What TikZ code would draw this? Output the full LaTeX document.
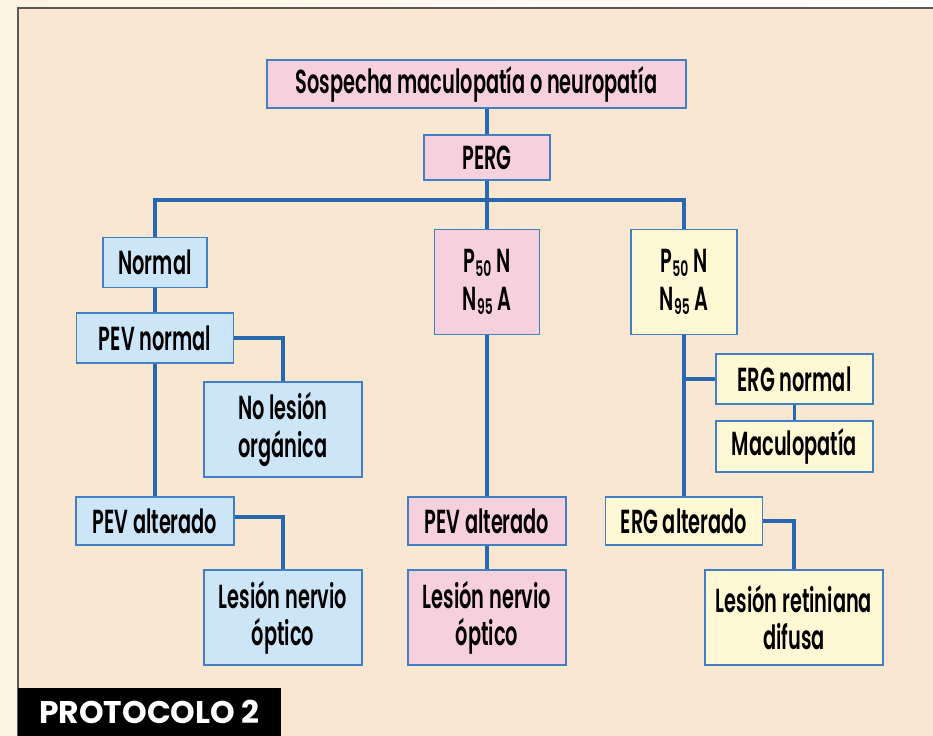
\documentclass[tikz,border=0pt]{standalone}
\usepackage{fontspec}
\setmainfont{Poppins}[FakeStretch=0.58, UprightFont=* SemiBold, BoldFont=* Bold]
\newfontfamily\protofont{Poppins}[UprightFont=* Bold]
\newcommand{\lowsub}[1]{\raisebox{-0.12em}{\fontsize{16}{16}\selectfont #1}}
\definecolor{pagebg}{RGB}{253,244,228}
\definecolor{framebg}{RGB}{250,231,209}
\definecolor{boxline}{RGB}{66,128,196}
\definecolor{linkline}{RGB}{40,104,176}
\definecolor{bluefill}{RGB}{204,230,247}
\definecolor{pinkfill}{RGB}{247,208,222}
\definecolor{yellowfill}{RGB}{255,248,213}
\begin{document}
\begin{tikzpicture}[x=0.75pt, y=-0.75pt,
    every node/.style = {shape=rectangle, draw=boxline, line width=0.9pt, align=center,
      inner sep=2pt, font=\fontsize{25}{28}\selectfont},
    bluebox/.style = {fill=bluefill},
    pinkbox/.style = {fill=pinkfill},
    yellowbox/.style = {fill=yellowfill},
    link/.style = {draw=linkline, line width=2.3pt}]
  \useasboundingbox (0,0) rectangle (933,736);
  % background and frame
  \shade[left color=pagebg, right color=white] (0,0) rectangle (933,736);
  \fill[pagebg] (0,0) rectangle (18,736);
  \fill[framebg, draw=black!65, line width=0.8pt] (18,8) rectangle (940,745);

  \node[pinkbox, minimum width=314.25pt, minimum height=36pt] (sosp) at (476.5,84) {Sospecha maculopatía o neuropatía};
  \node[pinkbox, minimum width=94.5pt, minimum height=33.75pt] (perg) at (487,157.5) {PERG};

  % left branch
  \node[bluebox, minimum width=78pt, minimum height=37.5pt] (normal) at (155,262.5) {Normal};
  \node[bluebox, minimum width=117.75pt, minimum height=37.5pt] (pevnorm) at (155,338) {PEV normal};
  \node[bluebox, minimum width=118.5pt, minimum height=71.25pt] (nolesion) at (283,429.5) {No lesión\\ orgánica};
  \node[bluebox, minimum width=118.5pt, minimum height=36pt] (pevaltl) at (155,521) {PEV alterado};
  \node[bluebox, minimum width=118.5pt, minimum height=71.25pt] (nerviol) at (283,617.5) {Lesión nervio\\ óptico};

  % middle branch
  \node[pinkbox, minimum width=78.75pt, minimum height=78.75pt] (pmid) at (487,282) {P\lowsub{50} N\\ N\lowsub{95} A};
  \node[pinkbox, minimum width=118.5pt, minimum height=36pt] (pevaltm) at (487,521) {PEV alterado};
  \node[pinkbox, minimum width=118.5pt, minimum height=71.25pt] (nerviom) at (487,617.5) {Lesión nervio\\ óptico};

  % right branch
  \node[yellowbox, minimum width=79.5pt, minimum height=78.75pt] (pright) at (684,282) {P\lowsub{50} N\\ N\lowsub{95} A};
  \node[yellowbox, minimum width=117.75pt, minimum height=37.5pt] (ergnorm) at (794.5,379) {ERG normal};
  \node[yellowbox, minimum width=117.75pt, minimum height=38.25pt] (macul) at (794.5,446.5) {Maculopatía};
  \node[yellowbox, minimum width=117.75pt, minimum height=36pt] (ergalt) at (684,521) {ERG alterado};
  \node[yellowbox, minimum width=133.5pt, minimum height=71.25pt] (retina) at (794,617.5) {Lesión retiniana\\ difusa};

  \coordinate (bus) at (487,200);

  \draw[link] (sosp.south -| perg.north) -- (perg.north);
  \draw[link] (perg) -- (bus);
  \draw[link] (normal.north) |- (bus) -| (pright.north);
  \draw[link] (bus) -- (pmid);
  \draw[link] (normal) -- (pevnorm);
  \draw[link] (pevnorm) -- (pevaltl);
  \draw[link] (pevnorm.east) -| (nolesion.north);
  \draw[link] ([yshift=3pt]pevaltl.east) -| (nerviol.north);
  \draw[link] (pmid) -- (pevaltm);
  \draw[link] (pevaltm) -- (nerviom);
  \draw[link] (pright.south) -- (ergalt.north);
  \draw[link] (ergnorm.west) -- (ergnorm.west -| pright.south);
  \draw[link] (ergnorm) -- (macul);
  \draw[link] (ergalt.east) -| (retina.north);

  \node[draw=none, fill=black, text=white, inner sep=0pt, minimum width=197.25pt, minimum height=36pt,
    font=\protofont\fontsize{23.5}{26}\selectfont] (proto) at (149.5,712) {PROTOCOLO 2};
\end{tikzpicture}
\end{document}
